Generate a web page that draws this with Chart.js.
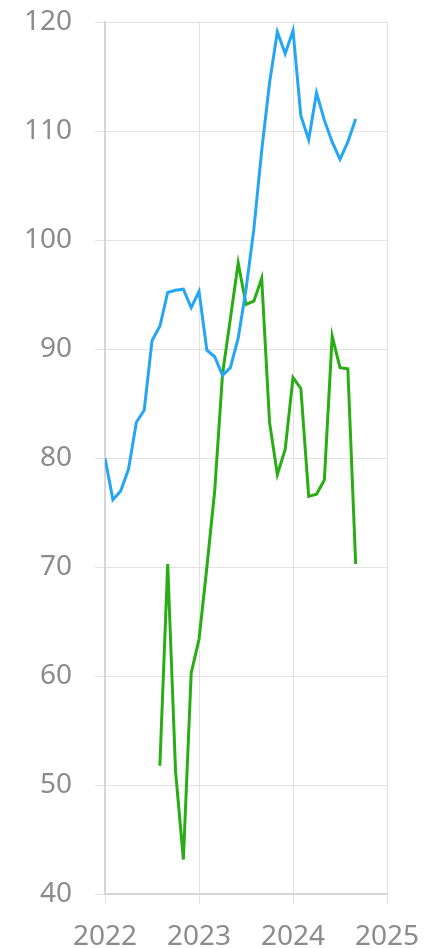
<!DOCTYPE html>
<html>
<head>
<meta charset="utf-8">
<script src="https://cdn.jsdelivr.net/npm/chart.js@4"></script>
<style>
  html, body { margin: 0; padding: 0; background: #fff; }
  #wrap { width: 426px; height: 948px; }
</style>
</head>
<body>
<div id="wrap"><canvas id="myChart"></canvas></div>
<script>
// monthly points, Jan 2022 .. Sep 2024
var months = [
    '2022-01', '2022-02', '2022-03', '2022-04', '2022-05', '2022-06',
    '2022-07', '2022-08', '2022-09', '2022-10', '2022-11', '2022-12',
    '2023-01', '2023-02', '2023-03', '2023-04', '2023-05', '2023-06',
    '2023-07', '2023-08', '2023-09', '2023-10', '2023-11', '2023-12',
    '2024-01', '2024-02', '2024-03', '2024-04', '2024-05', '2024-06',
    '2024-07', '2024-08', '2024-09'
];
var blueValues = [
    80.0, 76.2, 77.0, 79.0, 83.3, 84.4, 90.8, 92.1, 95.2, 95.4, 95.5, 93.8,
    95.3, 89.9, 89.3, 87.6, 88.3, 91.0, 95.5, 101.0, 108.2, 114.4, 119.1, 117.1,
    119.2, 111.4, 109.2, 113.5, 111.0, 109.0, 107.4, 109.0, 111.1
];
var greenValues = [
    null, null, null, null, null, null, null, 51.8, 70.3, 51.3, 43.2, 60.3,
    63.4, 70.0, 77.0, 87.7, 92.8, 97.9, 94.1, 94.4, 96.5, 83.3, 78.5, 80.8,
    87.4, 86.4, 76.5, 76.7, 78.0, 91.2, 88.3, 88.2, 70.3
];
var yTicks = [40, 50, 60, 70, 80, 90, 100, 110, 120];
var xTicks = [2022, 2023, 2024, 2025];

function toYear(m) {
    var p = m.split('-');
    return Number(p[0]) + (Number(p[1]) - 1) / 12;
}
function points(values) {
    return months.map(function (m, i) {
        return { x: toYear(m), y: values[i] };
    });
}

var gridColor = '#e2e2e2';
var axisColor = '#d6d6d6';
var textColor = '#8c8c8c';
var font = { family: 'Noto Sans', size: 28 };

var ctx = document.getElementById('myChart').getContext('2d');
var myChart = new Chart(ctx, {
    type: 'line',
    data: {
        datasets: [{
            label: 'blue',
            data: points(blueValues),
            borderColor: '#25a6f4',
            borderWidth: 3,
            pointRadius: 0,
            tension: 0
        }, {
            label: 'green',
            data: points(greenValues),
            borderColor: '#29ad14',
            borderWidth: 3,
            pointRadius: 0,
            tension: 0
        }]
    },
    options: {
        responsive: true,
        maintainAspectRatio: false,
        animation: false,
        layout: { padding: { left: 1, right: 0, top: 0, bottom: -22 } },
        scales: {
            x: {
                type: 'linear',
                min: xTicks[0],
                max: xTicks[xTicks.length - 1],
                afterBuildTicks: function (axis) {
                    axis.ticks = xTicks.map(function (v) { return { value: v }; });
                },
                afterFit: function (axis) {
                    // keep the tick padding out of the side margins
                    axis.paddingLeft = 0;
                    axis.paddingRight = 39;
                },
                ticks: {
                    color: textColor,
                    font: font,
                    padding: 16,
                    maxRotation: 0,
                    callback: function (v) { return String(v); }
                },
                grid: { color: gridColor, tickLength: 10 },
                border: { color: axisColor, width: 2 }
            },
            y: {
                min: yTicks[0],
                max: yTicks[yTicks.length - 1],
                afterBuildTicks: function (axis) {
                    axis.ticks = yTicks.map(function (v) { return { value: v }; });
                },
                afterFit: function (axis) {
                    axis.paddingTop = 22;
                    axis.paddingBottom = 17;
                },
                ticks: {
                    color: textColor,
                    font: font,
                    padding: 23,
                    callback: function (v) { return String(v); }
                },
                grid: { color: gridColor, tickLength: 10 },
                border: { color: axisColor, width: 2 }
            }
        },
        plugins: {
            legend: { display: false },
            tooltip: { enabled: false }
        }
    }
});
</script>
</body>
</html>
